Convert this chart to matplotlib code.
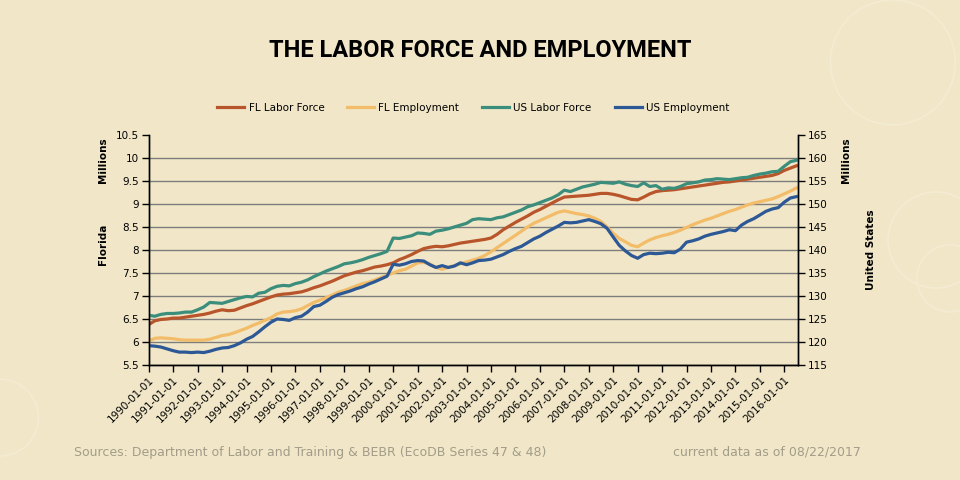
import matplotlib
matplotlib.use('Agg')
import matplotlib.pyplot as plt
import matplotlib.patches as mpatches
import pandas as pd

# quarterly readings, Jan 1990 .. Jul 2016 (millions)
fl_labor = [
    6.38, 6.46, 6.49, 6.50,  6.52, 6.52, 6.54, 6.56,  6.58, 6.60, 6.63, 6.67,
    6.70, 6.68, 6.69, 6.74,  6.79, 6.83, 6.88, 6.93,  6.98, 7.02, 7.04, 7.05,
    7.07, 7.09, 7.13, 7.18,  7.22, 7.27, 7.32, 7.38,  7.44, 7.48, 7.52, 7.55,
    7.59, 7.63, 7.65, 7.68,  7.72, 7.79, 7.84, 7.90,  7.97, 8.03, 8.06, 8.08,
    8.07, 8.09, 8.12, 8.15,  8.17, 8.19, 8.21, 8.23,  8.26, 8.34, 8.44, 8.52,
    8.60, 8.67, 8.74, 8.82,  8.88, 8.95, 9.02, 9.09,  9.15, 9.16, 9.17, 9.18,
    9.19, 9.21, 9.23, 9.23,  9.21, 9.18, 9.14, 9.10,  9.09, 9.15, 9.22, 9.27,
    9.29, 9.30, 9.31, 9.33,  9.35, 9.37, 9.39, 9.41,  9.43, 9.45, 9.47, 9.48,
    9.50, 9.52, 9.54, 9.56,  9.58, 9.60, 9.62, 9.66,  9.73, 9.78, 9.83,
]
fl_employment = [
    6.02, 6.08, 6.09, 6.08,  6.07, 6.05, 6.04, 6.04,  6.04, 6.04, 6.06, 6.10,
    6.14, 6.16, 6.20, 6.25,  6.30, 6.36, 6.41, 6.47,  6.53, 6.61, 6.65, 6.66,
    6.68, 6.72, 6.79, 6.86,  6.91, 6.96, 7.02, 7.08,  7.12, 7.17, 7.22, 7.27,
    7.30, 7.35, 7.40, 7.45,  7.50, 7.55, 7.58, 7.65,  7.72, 7.73, 7.70, 7.62,
    7.58, 7.62, 7.66, 7.70,  7.74, 7.78, 7.82, 7.88,  7.96, 8.05, 8.14, 8.23,
    8.32, 8.41, 8.50, 8.58,  8.64, 8.70, 8.76, 8.82,  8.85, 8.82, 8.79, 8.77,
    8.74, 8.69, 8.62, 8.50,  8.36, 8.25, 8.18, 8.10,  8.07, 8.15, 8.22, 8.27,
    8.31, 8.34, 8.38, 8.43,  8.49, 8.55, 8.60, 8.65,  8.69, 8.74, 8.79, 8.84,
    8.88, 8.93, 8.98, 9.02,  9.05, 9.08, 9.11, 9.16,  9.22, 9.28, 9.35,
]
us_labor = [
    125.8, 125.6, 126.0, 126.2,  126.2, 126.3, 126.5, 126.5,  127.0, 127.6, 128.6, 128.5,
    128.4, 128.8, 129.2, 129.6,  129.9, 129.8, 130.6, 130.8,  131.6, 132.1, 132.3, 132.2,
    132.7, 133.0, 133.5, 134.2,  134.8, 135.4, 135.9, 136.4,  137.0, 137.2, 137.5, 137.9,
    138.4, 138.8, 139.2, 139.7,  142.6, 142.5, 142.8, 143.1,  143.7, 143.6, 143.4, 144.1,
    144.3, 144.6, 145.0, 145.4,  145.8, 146.6, 146.8, 146.7,  146.6, 147.0, 147.2, 147.7,
    148.2, 148.7, 149.4, 149.8,  150.3, 150.8, 151.3, 152.0,  153.0, 152.7, 153.2, 153.7,
    154.0, 154.3, 154.7, 154.6,  154.5, 154.8, 154.3, 154.0,  153.8, 154.6, 153.8, 154.0,
    153.2, 153.5, 153.4, 153.8,  154.4, 154.6, 154.8, 155.2,  155.3, 155.5, 155.4, 155.3,
    155.5, 155.7, 155.8, 156.2,  156.5, 156.7, 157.0, 157.1,  158.2, 159.2, 159.5,
]
us_employment = [
    119.2, 119.1, 118.9, 118.5,  118.1, 117.8, 117.8, 117.7,  117.8, 117.7, 118.0, 118.4,
    118.7, 118.8, 119.2, 119.8,  120.6, 121.2, 122.2, 123.3,  124.3, 125.0, 124.9, 124.7,
    125.3, 125.6, 126.5, 127.7,  128.0, 128.8, 129.7, 130.3,  130.7, 131.1, 131.6, 132.0,
    132.6, 133.1, 133.7, 134.3,  136.9, 136.7, 137.0, 137.5,  137.7, 137.6, 136.8, 136.2,
    136.6, 136.2, 136.5, 137.2,  136.8, 137.2, 137.7, 137.8,  138.0, 138.5, 139.0, 139.7,
    140.3, 140.8, 141.6, 142.4,  143.0, 143.8, 144.5, 145.2,  146.0, 145.9, 146.0, 146.3,
    146.6, 146.2, 145.7, 144.7,  142.8, 141.0, 139.8, 138.8,  138.2, 139.0, 139.3, 139.2,
    139.3, 139.5, 139.4, 140.2,  141.7, 142.0, 142.4, 143.0,  143.4, 143.7, 144.0, 144.4,
    144.2, 145.4, 146.2, 146.8,  147.6, 148.4, 148.9, 149.2,  150.4, 151.3, 151.6,
]
dates = pd.date_range('1990-01-01', periods=len(fl_labor), freq='QS')
year_ticks = pd.date_range('1990-01-01', '2016-01-01', freq='YS')
fl_ticks = [5.5, 6, 6.5, 7, 7.5, 8, 8.5, 9, 9.5, 10, 10.5]
us_ticks = [115, 120, 125, 130, 135, 140, 145, 150, 155, 160, 165]

BG = '#f1e7c8'
C_FLLF = '#b9552b'
C_FLEMP = '#f2bc68'
C_USLF = '#3b8e7c'
C_USEMP = '#2d5896'

fig = plt.figure(figsize=(9.6, 4.8), dpi=100, facecolor=BG)

# very faint rings of the slide background
for cx, cy, r in [(0.93, 0.87, 0.065), (0.975, 0.50, 0.05), (0.99, 0.42, 0.035),
                  (0.0, 0.13, 0.04)]:
    fig.patches.append(mpatches.Ellipse((cx, cy), r * 2, r * 4, transform=fig.transFigure,
                                        fill=False, ec='#f4ecd4', lw=1.0, zorder=0))

ax = fig.add_axes([0.155, 0.2396, 0.676, 0.4792])
ax.set_facecolor('none')
ax2 = ax.twinx()
ax2.set_facecolor('none')

l1, = ax.plot(dates, fl_labor, color=C_FLLF, lw=2.3, label='FL Labor Force')
l2, = ax.plot(dates, fl_employment, color=C_FLEMP, lw=2.3, label='FL Employment')
l3, = ax2.plot(dates, us_labor, color=C_USLF, lw=2.3, label='US Labor Force')
l4, = ax2.plot(dates, us_employment, color=C_USEMP, lw=2.3, label='US Employment')

ax.set_ylim(5.5, 10.5)
ax.set_yticks(fl_ticks)
ax.set_yticklabels([f'{t:g}' for t in fl_ticks])
ax2.set_ylim(115, 165)
ax2.set_yticks(us_ticks)
ax.set_xlim(pd.Timestamp('1990-01-01'), pd.Timestamp('2016-07-20'))
ax.set_xticks(year_ticks)
ax.set_xticklabels([d.strftime('%Y-%m-%d') for d in year_ticks], rotation=45,
                   ha='right', rotation_mode='anchor')

ax.yaxis.grid(True, color='#7d7d7d', lw=1)
ax.get_ygridlines()[-1].set_visible(False)
ax.set_axisbelow(True)

for a in (ax, ax2):
    a.spines['top'].set_visible(False)
    for s in ('left', 'right', 'bottom'):
        a.spines[s].set_color('black')
        a.spines[s].set_linewidth(1)
    a.tick_params(labelsize=7.5, length=5, width=1, colors='black', pad=2)

fig.text(0.5, 0.895, 'THE LABOR FORCE AND EMPLOYMENT', ha='center', va='center',
         fontsize=17, fontweight='bold', family=['Roboto', 'DejaVu Sans'])

fig.legend(handles=[l1, l2, l3, l4], loc='center', bbox_to_anchor=(0.493, 0.775), ncol=4,
           frameon=False, fontsize=7.5, handlelength=2.6, columnspacing=2.2, handletextpad=0.4)

fig.text(0.107, 0.667, 'Millions', rotation=90, ha='center', va='center', fontsize=7.5, fontweight='bold')
fig.text(0.107, 0.49, 'Florida', rotation=90, ha='center', va='center', fontsize=7.5, fontweight='bold')
fig.text(0.881, 0.667, 'Millions', rotation=90, ha='center', va='center', fontsize=7.5, fontweight='bold')
fig.text(0.907, 0.48, 'United States', rotation=90, ha='center', va='center', fontsize=7.5, fontweight='bold')

fig.text(0.077, 0.058, 'Sources: Department of Labor and Training & BEBR (EcoDB Series 47 & 48)',
         ha='left', va='center', fontsize=9, color='#a29c89')
fig.text(0.701, 0.058, 'current data as of 08/22/2017', ha='left', va='center', fontsize=9, color='#a29c89')

fig.savefig('out.png', dpi=100, facecolor=BG)
